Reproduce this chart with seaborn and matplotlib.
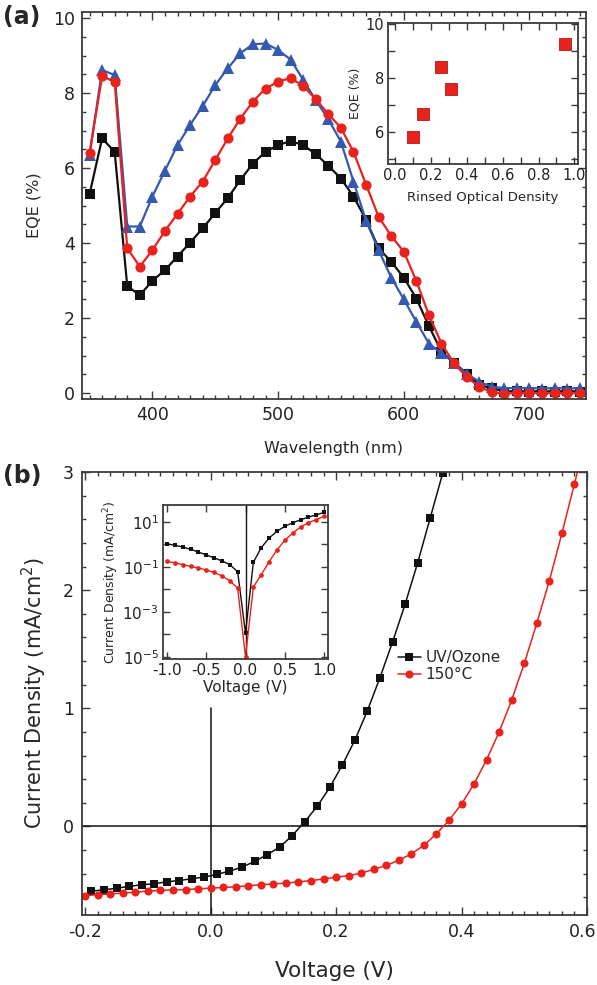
import numpy as np
import pandas as pd
import matplotlib
matplotlib.use("Agg")
import matplotlib.pyplot as plt
import seaborn as sns
from matplotlib.ticker import MultipleLocator, FixedLocator, FixedFormatter

sns.set_theme(style="ticks")
plt.rcParams['font.family'] = ['DejaVu Sans']
plt.rcParams['axes.unicode_minus'] = False

# ---------------- (a) EQE spectra ----------------
wavelength = [350, 360, 370, 380, 390, 400, 410, 420, 430, 440,
              450, 460, 470, 480, 490, 500, 510, 520, 530, 540,
              550, 560, 570, 580, 590, 600, 610, 620, 630, 640,
              650, 660, 670, 680, 690, 700, 710, 720, 730, 740]
eqe_black = [5.30, 6.79, 6.43, 2.85, 2.61, 2.99, 3.28, 3.64, 4.01, 4.39,
             4.80, 5.20, 5.68, 6.12, 6.43, 6.61, 6.72, 6.61, 6.37, 6.06,
             5.72, 5.24, 4.62, 3.86, 3.50, 3.08, 2.52, 1.79, 1.10, 0.81,
             0.52, 0.21, 0.13, 0.04, 0.05, 0.04, 0.05, 0.04, 0.05, 0.04]
eqe_red = [6.39, 8.45, 8.30, 3.86, 3.37, 3.81, 4.32, 4.78, 5.24, 5.64,
           6.21, 6.79, 7.32, 7.77, 8.12, 8.30, 8.40, 8.19, 7.83, 7.44,
           7.07, 6.43, 5.56, 4.70, 4.19, 3.77, 2.99, 2.08, 1.32, 0.79,
           0.43, 0.17, 0.02, -0.02, 0.00, -0.01, 0.00, -0.01, 0.00, -0.01]
eqe_blue = [6.35, 8.61, 8.48, 4.44, 4.44, 5.24, 5.93, 6.61, 7.15, 7.65,
            8.21, 8.66, 9.06, 9.30, 9.32, 9.15, 8.89, 8.35, 7.81, 7.30,
            6.70, 5.64, 4.59, 3.81, 3.08, 2.50, 1.90, 1.32, 1.06, 0.81,
            0.52, 0.30, 0.17, 0.13, 0.13, 0.13, 0.12, 0.13, 0.12, 0.13]

# inset (a): peak EQE vs rinsed optical density
rinsed_od = [0.10, 0.155, 0.255, 0.31, 0.945]
peak_eqe = [5.80, 6.65, 8.40, 7.60, 9.27]

# ---------------- (b) J-V curves ----------------
v_uv = [-0.19, -0.17, -0.15, -0.13, -0.11, -0.09, -0.07, -0.05, -0.03, -0.01,
        0.01, 0.03, 0.05, 0.07, 0.09, 0.11, 0.13, 0.15, 0.17, 0.19,
        0.21, 0.23, 0.25, 0.27, 0.29, 0.31, 0.33, 0.35, 0.37]
j_uv = [-0.548, -0.537, -0.523, -0.508, -0.494, -0.486, -0.469, -0.458, -0.443, -0.429,
        -0.407, -0.378, -0.345, -0.297, -0.240, -0.175, -0.079, 0.04, 0.17, 0.33,
        0.52, 0.73, 0.98, 1.26, 1.56, 1.88, 2.23, 2.61, 2.99]
v_150 = [-0.20, -0.18, -0.16, -0.14, -0.12, -0.10, -0.08, -0.06, -0.04, -0.02,
         0.00, 0.02, 0.04, 0.06, 0.08, 0.10, 0.12, 0.14, 0.16, 0.18,
         0.20, 0.22, 0.24, 0.26, 0.28, 0.30, 0.32, 0.34, 0.36, 0.38,
         0.40, 0.42, 0.44, 0.46, 0.48, 0.50, 0.52, 0.54, 0.56, 0.58, 0.60]
j_150 = [-0.585, -0.579, -0.571, -0.565, -0.556, -0.548, -0.542, -0.537, -0.535, -0.528,
         -0.523, -0.517, -0.511, -0.503, -0.494, -0.486, -0.480, -0.470, -0.458, -0.446,
         -0.429, -0.418, -0.395, -0.364, -0.330, -0.288, -0.232, -0.161, -0.062, 0.051,
         0.19, 0.36, 0.565, 0.80, 1.07, 1.38, 1.72, 2.08, 2.48, 2.90, 3.33]
v_ticks_b = [-0.2, 0.0, 0.2, 0.4, 0.6]
v_ticklabels_b = ["-0.2", "0.0", "0.2", "0.4", "0.6"]

# inset (b): |J| on a log scale over +/-1 V (values given as log10 |J|)
v_log = [-1.0, -0.9, -0.8, -0.7, -0.6, -0.5, -0.4, -0.3, -0.2, -0.1, 0.0,
         0.1, 0.2, 0.3, 0.4, 0.5, 0.6, 0.7, 0.8, 0.9, 1.0]
logj_uv = [0.02, -0.04, -0.12, -0.22, -0.34, -0.47, -0.60, -0.74, -0.90, -1.22, -3.95,
           -0.80, -0.15, 0.28, 0.58, 0.80, 0.96, 1.09, 1.21, 1.31, 1.42]
logj_150 = [-0.76, -0.82, -0.90, -0.98, -1.05, -1.14, -1.25, -1.40, -1.62, -1.95, -5.0,
            -1.90, -1.35, -0.78, -0.25, 0.18, 0.50, 0.77, 0.96, 1.10, 1.25]

BLACK = "#111111"
RED = "#e8221c"
BLUE = "#3558b0"
SPINE = "#3a3a3a"
LABEL = "#222222"

W, H = 597, 985
fig = plt.figure(figsize=(W / 100, H / 100), dpi=100)


def rect(l, t, r, b):
    return [l / W, 1 - b / H, (r - l) / W, (b - t) / H]


def style_axes(ax, major_len=6, minor_len=3):
    for s in ax.spines.values():
        s.set_linewidth(1.3)
        s.set_color(SPINE)
    ax.tick_params(which="both", direction="in", top=True, right=True,
                   color=SPINE, width=1.0, labelcolor=LABEL)
    ax.tick_params(which="major", length=major_len)
    ax.tick_params(which="minor", length=minor_len)


# ===== panel (a) =====
ax_a = fig.add_axes(rect(82, 12, 586, 399))
df_a = pd.DataFrame({"wl": wavelength, "black": eqe_black,
                     "red": eqe_red, "blue": eqe_blue})
sns.lineplot(data=df_a, x="wl", y="black", ax=ax_a, color=BLACK, marker="s",
             markersize=6.8, markeredgewidth=0, linewidth=1.6, sort=False)
sns.lineplot(data=df_a, x="wl", y="blue", ax=ax_a, color=BLUE, marker="^",
             markersize=8, markeredgewidth=0, linewidth=1.6, sort=False)
sns.lineplot(data=df_a, x="wl", y="red", ax=ax_a, color=RED, marker="o",
             markersize=7.3, markeredgewidth=0, linewidth=1.6, sort=False)
ax_a.set_xlim(344, 745)
ax_a.set_ylim(-0.16, 10.16)
ax_a.xaxis.set_major_locator(FixedLocator([400, 500, 600, 700]))
ax_a.xaxis.set_minor_locator(MultipleLocator(10))
ax_a.yaxis.set_major_locator(MultipleLocator(2))
ax_a.yaxis.set_minor_locator(MultipleLocator(0.5))
style_axes(ax_a)
ax_a.tick_params(which="major", labelsize=12.5, pad=5)
ax_a.set_xlabel("Wavelength (nm)", fontsize=11.5, labelpad=12)
ax_a.set_ylabel("EQE (%)", fontsize=11.5, labelpad=8)
fig.text(3 / W, 1 - 17 / H, "(a)", fontsize=17, fontweight="bold", va="center")

# inset (a)
ax_ai = fig.add_axes(rect(388, 23, 578, 164))
sns.scatterplot(x=rinsed_od, y=peak_eqe, ax=ax_ai, marker="s", s=70,
                color=RED, edgecolor="#b51612", linewidth=0.6, zorder=3)
ax_ai.set_xlim(-0.04, 1.02)
ax_ai.set_ylim(4.8, 10.05)
ax_ai.xaxis.set_major_locator(MultipleLocator(0.2))
ax_ai.xaxis.set_minor_locator(MultipleLocator(0.1))
ax_ai.xaxis.set_major_formatter(matplotlib.ticker.FormatStrFormatter("%.1f"))
ax_ai.yaxis.set_major_locator(FixedLocator([6, 8, 10]))
ax_ai.yaxis.set_minor_locator(MultipleLocator(1))
style_axes(ax_ai, major_len=5, minor_len=5)
ax_ai.tick_params(which="major", labelsize=10.5, pad=3)
ax_ai.set_xlabel("Rinsed Optical Density", fontsize=9.5, labelpad=6)
ax_ai.set_ylabel("EQE (%)", fontsize=9, labelpad=3)

# ===== panel (b) =====
ax_b = fig.add_axes(rect(82, 472, 587, 915))
ylo_b, yhi_b = -0.75, 3.0
ax_b.axhline(0, color=BLACK, linewidth=1.1, zorder=1)
ax_b.axvline(0, ymax=(1.0 - ylo_b) / (yhi_b - ylo_b), color=BLACK,
             linewidth=1.1, zorder=1)
sns.lineplot(x=v_uv, y=j_uv, ax=ax_b, color=BLACK, marker="s", markersize=5.3,
             markeredgewidth=0, linewidth=1.1, sort=False, label="UV/Ozone")
sns.lineplot(x=v_150, y=j_150, ax=ax_b, color=RED, marker="o", markersize=5.8,
             markeredgewidth=0, linewidth=1.1, sort=False, label="150\u00b0C")
ax_b.set_xlim(-0.205, 0.6)
ax_b.set_ylim(ylo_b, yhi_b)
ax_b.xaxis.set_major_locator(FixedLocator(v_ticks_b))
# the last label sits at the figure edge; it is drawn separately, right-aligned
ax_b.xaxis.set_major_formatter(FixedFormatter(v_ticklabels_b[:-1] + [""]))
ax_b.xaxis.set_minor_locator(MultipleLocator(0.02))
ax_b.yaxis.set_major_locator(FixedLocator([0, 1, 2, 3]))
ax_b.yaxis.set_minor_locator(MultipleLocator(0.2))
style_axes(ax_b)
ax_b.tick_params(which="major", labelsize=12.5, pad=6)
ax_b.annotate(v_ticklabels_b[-1], xy=(1, 0), xycoords="axes fraction",
              xytext=(7, -6), textcoords="offset points", ha="right", va="top",
              fontsize=12.5, color=LABEL)
ax_b.set_xlabel("Voltage (V)", fontsize=15.5, labelpad=14)
ax_b.set_ylabel("Current Density (mA/cm$^2$)", fontsize=15, labelpad=10)
leg = ax_b.legend(loc="center left", bbox_to_anchor=(398 / W, 1 - 666 / H),
                  bbox_transform=fig.transFigure, frameon=False, fontsize=11,
                  handlelength=1.5, handletextpad=0.3, labelspacing=0.15,
                  borderpad=0, borderaxespad=0)
fig.text(3 / W, 1 - 476 / H, "(b)", fontsize=17, fontweight="bold", va="center")

# inset (b)
ax_bi = fig.add_axes(rect(163, 505, 328, 659))
ax_bi.axvline(0, color=BLACK, linewidth=1.0, zorder=1)
sns.lineplot(x=v_log, y=np.power(10.0, logj_uv), ax=ax_bi, color=BLACK,
             marker="s", markersize=3.2, markeredgewidth=0, linewidth=1.0,
             sort=False)
sns.lineplot(x=v_log, y=np.power(10.0, logj_150), ax=ax_bi, color=RED,
             marker="o", markersize=3.4, markeredgewidth=0, linewidth=1.0,
             sort=False)
ax_bi.set_yscale("log")
ax_bi.set_xlim(-1.05, 1.05)
ax_bi.set_ylim(10 ** -5.1, 10 ** 1.75)
ax_bi.xaxis.set_major_locator(MultipleLocator(0.5))
ax_bi.xaxis.set_major_formatter(matplotlib.ticker.FormatStrFormatter("%.1f"))
ax_bi.xaxis.set_minor_locator(matplotlib.ticker.NullLocator())
ax_bi.yaxis.set_major_locator(FixedLocator([1e-5, 1e-3, 1e-1, 1e1]))
ax_bi.yaxis.set_major_formatter(FixedFormatter(
    ["10$^{\\mathregular{-5}}$", "10$^{\\mathregular{-3}}$",
     "10$^{\\mathregular{-1}}$", "10$^{\\mathregular{1}}$"]))
ax_bi.yaxis.set_minor_locator(FixedLocator([1e-4, 1e-2, 1e0]))
ax_bi.yaxis.set_minor_formatter(matplotlib.ticker.NullFormatter())
style_axes(ax_bi, major_len=5, minor_len=5)
ax_bi.tick_params(which="major", labelsize=11, pad=3)
ax_bi.set_xlabel("Voltage (V)", fontsize=11, labelpad=1)
ax_bi.set_ylabel("Current Density (mA/cm$^2$)", fontsize=9, labelpad=1)

fig.savefig("out.png", dpi=100)
